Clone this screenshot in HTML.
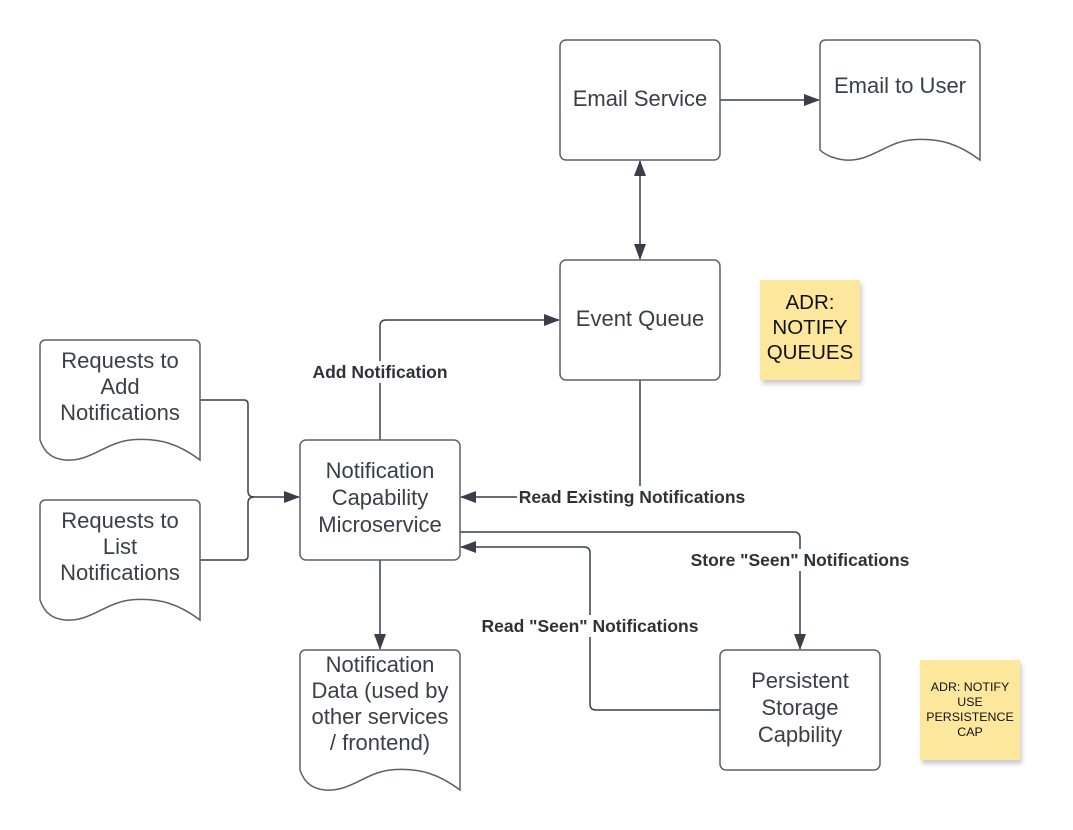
<!DOCTYPE html>
<html><head><meta charset="utf-8"><style>
html,body{margin:0;padding:0;background:#fff;}
svg{display:block;}
.n{font-family:"Liberation Sans",sans-serif;font-size:22px;fill:#3a3f47;text-anchor:middle;}
.l{font-family:"Liberation Sans",sans-serif;font-size:17.5px;font-weight:bold;fill:#2e3238;text-anchor:middle;}
.s{font-family:"Liberation Sans",sans-serif;fill:#111;text-anchor:middle;}
.b{fill:#fff;stroke:#5c6068;stroke-width:1.5;}
.c{fill:none;stroke:#3a3f47;stroke-width:1.5;}
</style></head><body>
<svg width="1073" height="830" viewBox="0 0 1073 830" xmlns="http://www.w3.org/2000/svg">
<defs>
<marker id="a" markerWidth="16" markerHeight="12" refX="15" refY="6" orient="auto-start-reverse" markerUnits="userSpaceOnUse">
<path d="M0,0 L16,6 L0,12 Z" fill="#3a3f47"/></marker>
<filter id="sh" x="-10%" y="-10%" width="130%" height="130%"><feDropShadow dx="2" dy="4" stdDeviation="2" flood-color="#000" flood-opacity="0.2"/></filter>
</defs>

<path class="c" d="M720,100 H819" marker-end="url(#a)"/>
<path class="c" d="M640,161 V259" marker-start="url(#a)" marker-end="url(#a)"/>
<path class="c" d="M380,440 V326 Q380,320 386,320 H559" marker-end="url(#a)"/>
<path class="c" d="M640,380 V497 H461" marker-end="url(#a)"/>
<path class="c" d="M460,532 H794 Q800,532 800,538 V649" marker-end="url(#a)"/>
<path class="c" d="M720,710 H596 Q590,710 590,704 V553 Q590,547 584,547 H461" marker-end="url(#a)"/>
<path class="c" d="M200,400 H244 Q248,400 248,404 V491 Q248,497 254,497 H299" marker-end="url(#a)"/>
<path class="c" d="M200,560 H244 Q248,560 248,556 V503 Q248,497 254,497"/>
<path class="c" d="M380,560 V649" marker-end="url(#a)"/>

<rect x="310" y="361" width="142" height="22" fill="#fff"/>
<text class="l" x="380" y="378">Add Notification</text>
<rect x="517" y="486" width="232" height="22" fill="#fff"/>
<text class="l" x="632" y="503">Read Existing Notifications</text>
<rect x="688" y="549" width="224" height="22" fill="#fff"/>
<text class="l" x="800" y="566">Store "Seen" Notifications</text>
<rect x="480" y="615" width="220" height="22" fill="#fff"/>
<text class="l" x="590" y="632">Read "Seen" Notifications</text>

<rect class="b" x="560" y="40" width="160" height="120" rx="6"/>
<text class="n" x="640" y="106">Email Service</text>
<rect class="b" x="560" y="260" width="160" height="120" rx="6"/>
<text class="n" x="640" y="326">Event Queue</text>
<rect class="b" x="300" y="440" width="160" height="120" rx="6"/>
<text class="n" x="380" y="478">Notification</text>
<text class="n" x="380" y="505">Capability</text>
<text class="n" x="380" y="532">Microservice</text>
<rect class="b" x="720" y="650" width="160" height="120" rx="6"/>
<text class="n" x="800" y="688">Persistent</text>
<text class="n" x="800" y="715">Storage</text>
<text class="n" x="800" y="742">Capbility</text>

<path class="b" d="M820,150 V46 Q820,40 826,40 H974 Q980,40 980,46 V160 C960,145 940,137 910,140 C885,143 870,162 845,160 C835,159 825,155 820,150 Z"/>
<text class="n" x="900" y="93">Email to User</text>

<path class="b" d="M40,440 V346 Q40,340 46,340 H194 Q200,340 200,346 V460 C180,445 160,437 130,440 C105,443 90,462 65,460 C55,459 45,455 40,440 Z"/>
<text class="n" x="120" y="368">Requests to</text>
<text class="n" x="120" y="394">Add</text>
<text class="n" x="120" y="420">Notifications</text>

<path class="b" d="M40,600 V506 Q40,500 46,500 H194 Q200,500 200,506 V620 C180,605 160,597 130,600 C105,603 90,622 65,620 C55,619 45,615 40,600 Z"/>
<text class="n" x="120" y="528">Requests to</text>
<text class="n" x="120" y="554">List</text>
<text class="n" x="120" y="580">Notifications</text>

<path class="b" d="M300,770 V656 Q300,650 306,650 H454 Q460,650 460,656 V790 C440,775 420,767 390,770 C365,773 350,792 325,790 C315,789 305,785 300,770 Z"/>
<text class="n" x="380" y="672">Notification</text>
<text class="n" x="380" y="698">Data (used by</text>
<text class="n" x="380" y="724">other services</text>
<text class="n" x="380" y="750">/ frontend)</text>

<rect x="760" y="280" width="100" height="100" fill="#fde79d" filter="url(#sh)"/>
<text class="s" x="810" y="309" font-size="20.5">ADR:</text>
<text class="s" x="810" y="334" font-size="20.5">NOTIFY</text>
<text class="s" x="810" y="359" font-size="20.5">QUEUES</text>
<rect x="920" y="660" width="100" height="100" fill="#fde79d" filter="url(#sh)"/>
<text class="s" x="970" y="691" font-size="12.4">ADR: NOTIFY</text>
<text class="s" x="970" y="706" font-size="12.4">USE</text>
<text class="s" x="970" y="721" font-size="12.4">PERSISTENCE</text>
<text class="s" x="970" y="736" font-size="12.4">CAP</text>
</svg>
</body></html>
